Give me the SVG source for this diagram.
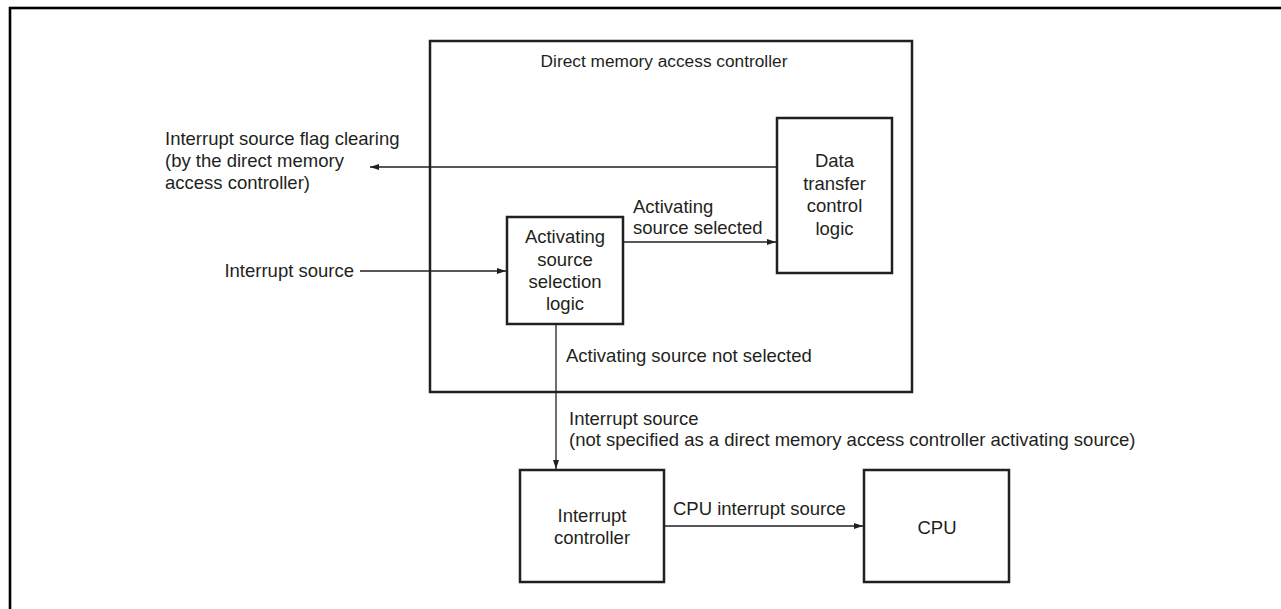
<svg xmlns="http://www.w3.org/2000/svg" width="1281" height="609" viewBox="0 0 1281 609">
<defs>
<marker id="arr" markerWidth="9" markerHeight="7" refX="9" refY="3.5" orient="auto" markerUnits="userSpaceOnUse">
<path d="M0,0.5 L9,3.5 L0,6.5 z" fill="#231f20"/>
</marker>
<style>
.box{fill:#fff;stroke:#231f20;stroke-width:2.5}
.ln{fill:none;stroke:#231f20;stroke-width:1.3}
text{font-family:"Liberation Sans",Arial,sans-serif;font-size:18.5px;fill:#231f20}
.c{text-anchor:middle}
</style>
</defs>
<rect width="1281" height="609" fill="#fff"/>
<rect id="frame" x="10" y="8" width="1400" height="800" fill="none" stroke="#000" stroke-width="2.6"/>

<g id="dma">
<rect class="box" x="430" y="41" width="482" height="351"/>
<text class="c" x="664" y="67" style="font-size:17.3px">Direct memory access controller</text>
</g>

<g id="data-transfer">
<rect class="box" x="777" y="118" width="115" height="155"/>
<text class="c" x="834.5" y="167">Data</text>
<text class="c" x="834.5" y="190">transfer</text>
<text class="c" x="834.5" y="212">control</text>
<text class="c" x="834.5" y="235">logic</text>
</g>

<g id="selection">
<rect class="box" x="507" y="217" width="116" height="107"/>
<text class="c" x="565" y="243">Activating</text>
<text class="c" x="565" y="266">source</text>
<text class="c" x="565" y="288">selection</text>
<text class="c" x="565" y="310">logic</text>
</g>

<g id="intc">
<rect class="box" x="520" y="470" width="144" height="112"/>
<text class="c" x="592" y="522">Interrupt</text>
<text class="c" x="592" y="544">controller</text>
</g>

<g id="cpu">
<rect class="box" x="864" y="470" width="145" height="112"/>
<text class="c" x="937" y="534">CPU</text>
</g>

<g id="connectors">
<line class="ln" x1="777" y1="167" x2="370" y2="167" marker-end="url(#arr)"/>
<line class="ln" x1="360" y1="271" x2="506" y2="271" marker-end="url(#arr)"/>
<line class="ln" x1="623" y1="242" x2="776" y2="242" marker-end="url(#arr)"/>
<line class="ln" x1="556" y1="324" x2="556" y2="469" marker-end="url(#arr)"/>
<line class="ln" x1="664" y1="526" x2="863" y2="526" marker-end="url(#arr)"/>
</g>

<g id="labels">
<text x="165" y="145">Interrupt source flag clearing</text>
<text x="165" y="167">(by the direct memory</text>
<text x="165" y="189">access controller)</text>
<text x="354" y="277" text-anchor="end">Interrupt source</text>
<text x="633" y="213">Activating</text>
<text x="633" y="234">source selected</text>
<text x="566" y="362">Activating source not selected</text>
<text x="569" y="425">Interrupt source</text>
<text x="569" y="446">(not specified as a direct memory access controller activating source)</text>
<text x="673" y="515">CPU interrupt source</text>
</g>
</svg>
